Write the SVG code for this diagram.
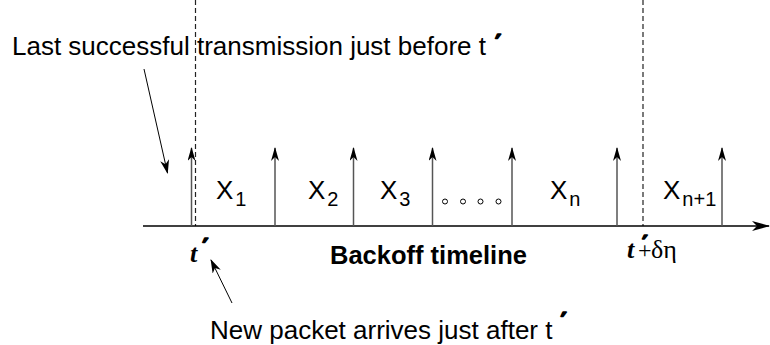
<svg xmlns="http://www.w3.org/2000/svg" width="770" height="345" viewBox="0 0 770 345">
  <style>
    .sans { font-family: "Liberation Sans", Arial, sans-serif; fill: #000; }
    .serif { font-family: "Liberation Serif", "Times New Roman", serif; fill: #000; }
    .prime { font-family: "DejaVu Sans", sans-serif; font-weight: bold; font-style: normal; stroke: #000; stroke-width: 1.6; stroke-linejoin: round; }
    .lbl { font-size: 26px; }
    .sub { font-size: 20px; }
    .tick { stroke: #555; stroke-width: 1.5; fill: none; }
    .dash { stroke: #222; stroke-width: 1.2; stroke-dasharray: 5 3; fill: none; }
    .axis { stroke: #000; stroke-width: 1.5; fill: none; }
    .pointer { stroke: #000; stroke-width: 1; fill: none; }
    .dot { fill: none; stroke: #000; stroke-width: 1; }
  </style>
  <defs>
    <marker id="headTick" viewBox="0 0 14 8" refX="13" refY="4" markerWidth="14" markerHeight="8" markerUnits="userSpaceOnUse" orient="auto">
      <path d="M0,0 L14,4 L0,8 L4,4 Z" fill="#000"/>
    </marker>
    <marker id="headPointer" viewBox="0 0 14 9" refX="13" refY="4.5" markerWidth="14" markerHeight="9" markerUnits="userSpaceOnUse" orient="auto">
      <path d="M0,0 L14,4.5 L0,9 L4,4.5 Z" fill="#000"/>
    </marker>
    <marker id="headAxis" viewBox="0 0 18 10" refX="17" refY="5" markerWidth="18" markerHeight="10" markerUnits="userSpaceOnUse" orient="auto">
      <path d="M0,0 L18,5 L0,10 L5,5 Z" fill="#000"/>
    </marker>
  </defs>

  <!-- reference instants: t' and t' + delta eta -->
  <g id="marks">
    <line class="dash" x1="195.5" y1="0" x2="195.5" y2="226"/>
    <line class="dash" x1="643" y1="0" x2="643" y2="226"/>
  </g>

  <!-- time axis -->
  <g id="axis">
    <line class="axis" x1="143" y1="226" x2="769" y2="226" marker-end="url(#headAxis)"/>
    <text class="sans" x="330" y="264" font-size="25.5" font-weight="bold">Backoff timeline</text>
  </g>

  <!-- backoff slot boundaries -->
  <g id="ticks">
    <line class="tick" x1="191.5" y1="226" x2="191.5" y2="148" marker-end="url(#headTick)"/>
    <line class="tick" x1="275" y1="226" x2="275" y2="148" marker-end="url(#headTick)"/>
    <line class="tick" x1="353.5" y1="226" x2="353.5" y2="148" marker-end="url(#headTick)"/>
    <line class="tick" x1="432.5" y1="226" x2="432.5" y2="148" marker-end="url(#headTick)"/>
    <line class="tick" x1="512" y1="226" x2="512" y2="148" marker-end="url(#headTick)"/>
    <line class="tick" x1="617" y1="226" x2="617" y2="148" marker-end="url(#headTick)"/>
    <line class="tick" x1="722" y1="226" x2="722" y2="148" marker-end="url(#headTick)"/>
  </g>

  <!-- slot labels -->
  <g id="slot-x1"><text class="sans lbl" x="216" y="199">X<tspan class="sub" dx="2" dy="7">1</tspan></text></g>
  <g id="slot-x2"><text class="sans lbl" x="308" y="199">X<tspan class="sub" dx="2" dy="7">2</tspan></text></g>
  <g id="slot-x3"><text class="sans lbl" x="380" y="199">X<tspan class="sub" dx="2" dy="7">3</tspan></text></g>
  <g id="slot-dots">
    <circle class="dot" cx="445" cy="201.5" r="2.5"/>
    <circle class="dot" cx="463" cy="201.5" r="2.5"/>
    <circle class="dot" cx="480.5" cy="201.5" r="2.5"/>
    <circle class="dot" cx="498.5" cy="201.5" r="2.5"/>
  </g>
  <g id="slot-xn"><text class="sans lbl" x="550" y="199">X<tspan class="sub" dx="2" dy="7">n</tspan></text></g>
  <g id="slot-xn1"><text class="sans lbl" x="663" y="199">X<tspan class="sub" dx="2" dy="7">n+1</tspan></text></g>

  <!-- instant labels -->
  <g id="label-t">
    <text class="serif" x="190" y="262" font-size="26" font-style="italic" font-weight="bold">t<tspan class="prime" font-size="24" dx="5" dy="-6">′</tspan></text>
  </g>
  <g id="label-t-delta">
    <text class="serif" y="258"><tspan x="627" font-size="26" font-style="italic" font-weight="bold">t</tspan><tspan class="prime" x="642" y="251" font-size="22">′</tspan><tspan x="638" y="258" font-size="24">+</tspan><tspan x="651" font-size="26">δη</tspan></text>
  </g>

  <!-- annotations -->
  <g id="note-last">
    <text class="sans lbl" x="12" y="55">Last successful transmission just before t<tspan class="prime" font-size="24" dx="9" dy="-3">′</tspan></text>
  </g>
  <g id="note-new">
    <text class="sans lbl" x="210" y="339">New packet arrives just after t<tspan class="prime" font-size="24" dx="8" dy="-9">′</tspan></text>
  </g>

  <g id="connectors">
    <line class="pointer" x1="144" y1="69" x2="167.5" y2="173" marker-end="url(#headPointer)"/>
    <line class="pointer" x1="232" y1="303" x2="211" y2="260" marker-end="url(#headPointer)"/>
  </g>
</svg>
